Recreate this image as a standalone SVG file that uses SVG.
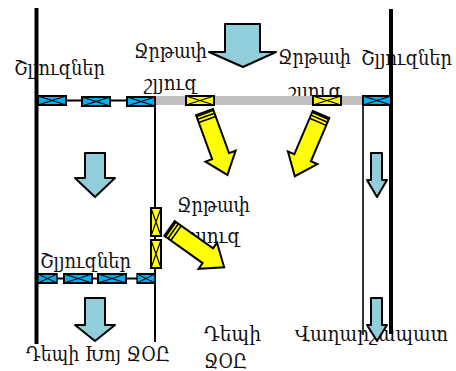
<svg xmlns="http://www.w3.org/2000/svg" width="456" height="371" viewBox="0 0 456 371">
<style>
text{font-family:"DejaVu Serif","Liberation Serif",serif;font-size:21px;fill:#111}
.sw{stroke:#000;stroke-width:2}
.b{fill:#00b0f0}
.y{fill:#ffff00}
.x{fill:none;stroke:#000;stroke-width:1.2}
.ar{fill:#92cddc;stroke:#000;stroke-width:2;stroke-linejoin:round}
.ya{fill:#ffff00;stroke:#000;stroke-width:2;stroke-linejoin:miter}
</style>
<defs>
<g id="sx"><rect class="sw" x="0" y="0" width="28" height="9" fill="inherit"/><path class="x" d="M0 0L28 9M0 9L28 0"/></g>
<g id="sv"><rect class="sw" x="0" y="0" width="10" height="28" fill="inherit"/><path class="x" d="M0 0L10 28M10 0L0 28"/></g>
<g id="yarrow"><path class="ya" d="M-9 0L9 0L9 47L16 47L0 67L-16 47L-9 47Z"/><path d="M-9 1.500L9 1.500M-9 4.500L9 4.500M-9 8L9 8" stroke="#000" stroke-width="1.600" fill="none"/></g>
</defs>
<g id="labels">
<text x="14" y="75" textLength="91" lengthAdjust="spacingAndGlyphs">Շլյուզներ</text>
<text x="134" y="58" textLength="73" lengthAdjust="spacingAndGlyphs">Ջրթափ</text>
<text x="144" y="90" textLength="53" lengthAdjust="spacingAndGlyphs">շլյուզ</text>
<text x="278" y="64" textLength="73" lengthAdjust="spacingAndGlyphs">Ջրթափ</text>
<text x="361" y="65" textLength="91" lengthAdjust="spacingAndGlyphs">Շլյուզներ</text>
<text x="288" y="98" textLength="53" lengthAdjust="spacingAndGlyphs">շլյուզ</text>
<text x="177" y="212" textLength="73" lengthAdjust="spacingAndGlyphs">Ջրթափ</text>
<text x="187" y="243" textLength="53" lengthAdjust="spacingAndGlyphs">շլյուզ</text>
<text x="40" y="268" textLength="91" lengthAdjust="spacingAndGlyphs">Շլյուզներ</text>
<text x="26" y="361" textLength="144" lengthAdjust="spacingAndGlyphs">Դեպի Խոյ ՋՕԸ</text>
<text x="204" y="341" textLength="57" lengthAdjust="spacingAndGlyphs">Դեպի</text>
<text x="204" y="368" textLength="43" lengthAdjust="spacingAndGlyphs">ՋՕԸ</text>
<text x="295" y="341" textLength="153" lengthAdjust="spacingAndGlyphs">Վաղարշապատ</text>
</g>
<g id="connectors" fill="none" stroke="#000">
<path d="M36.500 8V344M391 9V334" stroke-width="4"/>
<path d="M155 100V342" stroke-width="2"/>
<path d="M363 100V335" stroke-width="2" stroke="#333"/>
<path d="M37 100.500H155M38 278.500H155" stroke-width="2"/>
<path d="M155 100.500H363" stroke="#bfbfbf" stroke-width="9"/>
</g>
<g id="switches-top" class="b">
<use href="#sx" x="38" y="96"/>
<use href="#sx" x="82" y="97"/>
<use href="#sx" x="127" y="97"/>
<use href="#sx" x="363" y="96"/>
</g>
<g id="switches-bottom" class="b">
<use href="#sx" transform="translate(38 274) scale(.68 1)"/>
<use href="#sx" x="64" y="274"/>
<use href="#sx" x="98" y="274"/>
<use href="#sx" transform="translate(137 274) scale(.64 1)"/>
</g>
<g id="spill-gates" class="y">
<use href="#sx" x="186" y="96"/>
<use href="#sx" x="313" y="96"/>
<use href="#sv" x="151" y="208"/>
<use href="#sv" x="151" y="240"/>
</g>
<g id="flow-arrows">
<path class="ar" d="M225 24H260V52H276L243 67L209 52H225Z"/>
<path class="ar" d="M85 153H105V178H115L95 197L75 178H85Z"/>
<path class="ar" d="M371 153H382V180H387L377 197L367 180H371Z"/>
<path class="ar" d="M85 298H105V325H115L95 341L75 325H85Z"/>
<path class="ar" d="M371 298H382V325H387L377 341L367 325H371Z"/>
</g>
<g id="spill-arrows">
<use href="#yarrow" transform="translate(204.500 112) rotate(-20)"/>
<use href="#yarrow" transform="translate(321 114.500) rotate(23)"/>
<use href="#yarrow" transform="translate(169.500 228.500) rotate(-54.600)"/>
</g>
</svg>
